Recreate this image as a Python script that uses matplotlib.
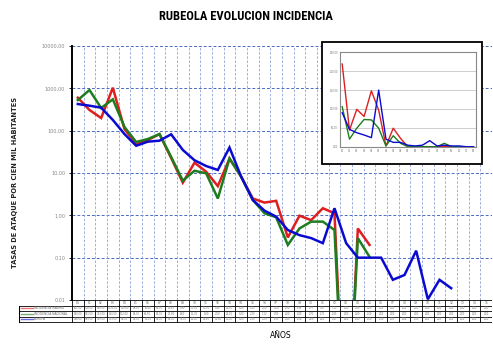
import numpy as np
import matplotlib
matplotlib.use('Agg')
import matplotlib.pyplot as plt
from matplotlib.patches import Rectangle
from matplotlib import font_manager

nan = np.nan

# years shown in the table (two digit)
years = ['80', '81', '82', '83', '84', '85', '86', '87', '88', '89',
         '90', '91', '92', '93', '94', '95', '96', '97', '98', '99',
         '00', '01', '02', '03', '04', '05', '06', '07', '08', '09',
         '10', '11', '12', '13', '14', '15']

series_names = ['INCIDENCIA MADRID', 'INCIDENCIA NACIONAL', 'EUROPA']

# tasas por cien mil habitantes
madrid = [601, 308, 199, 1035, 109, 48, 60, 83, 22.6, 5.9,
          17.5, 10.7, 4.9, 22, 8.2, 2.5, 2.0, 2.2, 0.30, 0.98,
          0.77, 1.47, 1.12, 0.000001, 0.49, 0.20, nan, nan, nan, nan,
          nan, nan, nan, nan, nan, nan]
nacional = [530, 913, 343, 550, 122, 54, 63.5, 83, 23.9, 6.6,
            11.3, 9.8, 2.5, 22, 8.2, 2.3, 1.12, 0.90, 0.20, 0.49,
            0.71, 0.71, 0.45, 0.000001, 0.29, 0.105, nan, nan, nan, nan,
            nan, nan, nan, nan, nan, nan]
europa = [426, 389, 349, 179, 83, 44, 55, 58, 82, 35,
          20, 14.6, 11.8, 40, 8.2, 2.3, 1.29, 0.93, 0.45, 0.34,
          0.29, 0.22, 1.47, 0.22, 0.10, 0.10, 0.10, 0.030, 0.039, 0.146,
          0.0104, 0.030, 0.019, nan, nan, nan]

# small inset (linear scale)
inset_labels = years[:19]
inset_madrid = [219, 44, 99, 80, 148, 97, 2, 49, 22, 0,
                0, 0, 0, 0, 0, 0, 0, 0, 0]
inset_nacional = [106, 20, 49, 72, 71, 49, 2, 29, 9, 0,
                  0, 0, 0, 0, 9, 0, 0, 0, 0]
inset_europa = [90, 46, 37, 31, 24, 150, 20, 11.5, 11.5, 4,
                2, 4, 16, 2, 4, 2, 2, 0, 0]

colors = ['#dd1f1f', '#1e7d1e', '#0a0ad0']

# narrow font for the title if there is one
installed = set(f.name for f in font_manager.fontManager.ttflist)
title_font = 'DejaVu Sans'
for name in ['Liberation Sans Narrow', 'DejaVu Sans Condensed', 'Roboto Condensed', 'Liberation Sans']:
    if name in installed:
        title_font = name
        break

W, H = 493, 354
fig = plt.figure(figsize=(W / 100, H / 100), dpi=100)

def fx(px):
    return px / W

def fy(py):
    return 1 - py / H

# ---- main log chart ----
ax = fig.add_axes([fx(72), fy(300), fx(492) - fx(72), fy(46) - fy(300)])
x = np.arange(len(years))
for vals, c in zip([madrid, nacional, europa], colors):
    ax.plot(x, vals, color=c, lw=1.8, solid_joinstyle='miter', zorder=3)
ax.set_yscale('log')
ax.set_ylim(0.01, 10000)
ax.set_xlim(-0.5, len(years) - 0.5)
ticks = [0.01, 0.1, 1, 10, 100, 1000, 10000]
ax.set_yticks(ticks)
ax.set_yticklabels([('%.2f' % t).replace('.', ',') for t in ticks],
                   fontsize=3.5, color='#888888')
ax.yaxis.set_minor_locator(matplotlib.ticker.NullLocator())
ax.tick_params(axis='y', length=2, width=0.6, pad=3)
ax.set_xticks([])
for t in ticks[1:]:
    ax.axhline(t, color='#4a6cc0', lw=0.7, ls=(0, (3, 2)), zorder=1)
for i in range(len(years) - 1):
    ax.axvline(i + 0.5, color='#8ea2d8', lw=0.6, ls=(0, (3, 2)), zorder=1)
for s in ['top', 'right', 'bottom']:
    ax.spines[s].set_visible(False)
ax.spines['left'].set_linewidth(1.4)

# ---- data table under the chart ----
tab = fig.add_axes([fx(19), fy(324), fx(492) - fx(19), fy(300) - fy(324)])
tab.set_xlim(19, 492)
tab.set_ylim(324, 300)
tab.axis('off')
col_w = 420 / len(years)
rows_y = [300.5, 305.7, 311.2, 316.7, 322.3]
tab.plot([72, 492], [rows_y[0], rows_y[0]], color='k', lw=0.6)
for yy in rows_y[1:]:
    tab.plot([19, 492], [yy, yy], color='k', lw=0.6)
tab.plot([19, 19], [rows_y[1], rows_y[-1]], color='k', lw=0.8)
for i in range(len(years) + 1):
    xx = 72 + i * col_w
    tab.plot([xx, xx], [rows_y[0], rows_y[-1]], color='k', lw=0.6)
for i, yr in enumerate(years):
    tab.text(72 + (i + 0.5) * col_w, (rows_y[0] + rows_y[1]) / 2, yr,
             fontsize=2.2, color='#666666', ha='center', va='center')
for r, (name, vals, c) in enumerate(zip(series_names, [madrid, nacional, europa], colors)):
    yc = (rows_y[r + 1] + rows_y[r + 2]) / 2
    tab.plot([21, 33], [yc, yc], color=c, lw=1.0, alpha=0.6)
    tab.text(34, yc, name, fontsize=2.2, color='#666666', va='center')
    for i, v in enumerate(vals):
        txt = '0,00' if (np.isnan(v) or v < 0.001) else ('%.2f' % v).replace('.', ',')
        tab.text(72 + (i + 0.5) * col_w, yc, txt, fontsize=1.8,
                 color='#777777', ha='center', va='center')

# ---- inset, linear scale ----
fig.patches.append(Rectangle((fx(321.7), fy(164)), fx(481.7) - fx(321.7), fy(41.7) - fy(164),
                             transform=fig.transFigure, facecolor='white',
                             edgecolor='black', lw=1.3, zorder=5))
ins = fig.add_axes([fx(340), fy(146.7), fx(475.7) - fx(340), fy(52.3) - fy(146.7)], zorder=6)
xi = np.arange(len(inset_labels))
for vals, c in zip([inset_madrid, inset_nacional, inset_europa], colors):
    ins.plot(xi, vals, color=c, lw=1.0)
ins.set_ylim(0, 250)
ins.set_xlim(-0.3, len(inset_labels) - 0.7)
ins.set_yticks([0, 50, 100, 150, 200, 250])
ins.set_yticklabels(['0,00', '50,00', '100,00', '150,00', '200,00', '250,00'],
                    fontsize=1.8, color='#777777')
ins.set_xticks(xi)
ins.set_xticklabels(inset_labels, fontsize=1.8, color='#777777')
ins.tick_params(length=0, pad=1.5)
ins.grid(axis='y', color='#bbbbbb', lw=0.5)
for s in ins.spines.values():
    s.set_color('#888888')
    s.set_linewidth(0.8)

# ---- texts ----
fig.text(0.498, fy(17), 'RUBEOLA EVOLUCION INCIDENCIA', ha='center', va='center',
         fontsize=9, fontweight='bold', family=title_font)
fig.text(fx(15), fy(182), 'TASAS DE ATAQUE POR CIEN MIL HABITANTES', rotation=90,
         ha='center', va='center', fontsize=4.8, fontweight='bold', color='#222222')
fig.text(fx(281), fy(335), 'AÑOS', ha='center', va='center', fontsize=5.5)

fig.savefig('out.png', dpi=100)
